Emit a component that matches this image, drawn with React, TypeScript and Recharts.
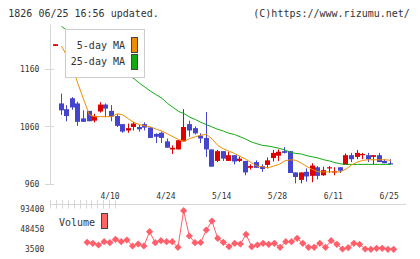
import React from "react";
import { ComposedChart, Bar, Line, XAxis, YAxis } from "recharts";

// Trading days shown on the chart
const dates = [
  "3/27", "3/30", "3/31", "4/1", "4/2", "4/3", "4/6", "4/7", "4/8", "4/9",
  "4/10", "4/13", "4/14", "4/15", "4/16", "4/17", "4/20", "4/21", "4/22", "4/23",
  "4/24", "4/27", "4/28", "4/30", "5/1", "5/7", "5/8", "5/11", "5/12", "5/13",
  "5/14", "5/15", "5/18", "5/19", "5/20", "5/21", "5/22", "5/25", "5/26", "5/27",
  "5/28", "5/29", "6/1", "6/2", "6/3", "6/4", "6/5", "6/8", "6/9", "6/10",
  "6/11", "6/12", "6/15", "6/16", "6/17", "6/18", "6/19", "6/22", "6/23", "6/24",
  "6/25",
];

const opens = [
  1201, 1101, 1091, 1110, 1101, 1075, 1088, 1071, 1087, 1099,
  1088, 1079, 1065, 1054, 1060, 1060, 1065, 1059, 1048, 1050,
  1035, 1021, 1021, 1035, 1065, 1058, 1045, 1041, 1021, 1001,
  1018, 1001, 1011, 1001, 1001, 989, 999, 992, 994, 1006,
  1010, 1018, 1018, 981, 968, 982, 975, 990, 976, 988,
  981, 990, 994, 1011, 1008, 1011, 1011, 1008, 1011, 1001,
  997,
];
const highs = [
  1204, 1118, 1098, 1112, 1104, 1089, 1088, 1083, 1103, 1101,
  1098, 1082, 1065, 1066, 1069, 1064, 1068, 1060, 1049, 1052,
  1040, 1028, 1037, 1091, 1071, 1061, 1049, 1086, 1021, 1020,
  1018, 1017, 1011, 1009, 1001, 995, 1002, 995, 1007, 1020,
  1021, 1025, 1018, 981, 981, 988, 997, 992, 991, 992,
  990, 990, 1014, 1015, 1020, 1015, 1015, 1011, 1015, 1004,
  1004,
];
const lows = [
  1201, 1081, 1070, 1090, 1062, 1069, 1070, 1068, 1085, 1077,
  1070, 1060, 1050, 1050, 1054, 1052, 1054, 1041, 1032, 1032,
  1024, 1013, 1021, 1035, 1043, 1047, 1032, 1008, 991, 999,
  1001, 1001, 995, 999, 976, 986, 989, 982, 988, 1000,
  1001, 1014, 980, 962, 962, 965, 964, 969, 975, 980,
  976, 980, 994, 999, 1004, 1004, 999, 995, 999, 997,
  995,
];
const closes = [
  1204, 1089, 1079, 1094, 1069, 1069, 1070, 1079, 1099, 1092,
  1078, 1062, 1052, 1058, 1066, 1056, 1059, 1041, 1043, 1041,
  1024, 1024, 1037, 1060, 1054, 1049, 1040, 1021, 991, 1018,
  1005, 1011, 1000, 1005, 981, 992, 989, 987, 1002, 1015,
  1017, 1015, 980, 973, 981, 974, 993, 975, 985, 990,
  983, 984, 1011, 1004, 1015, 1013, 1004, 1011, 999, 997,
  996,
];

// 5-day and 25-day moving averages
const ma5 = [
  null, 1201, 1183, 1162, 1134, 1107, 1081, 1078, 1078, 1078,
  1078, 1083, 1081, 1074, 1068, 1064, 1062, 1060, 1056, 1053,
  1048, 1043, 1038, 1035, 1040, 1043, 1046, 1047, 1039, 1028,
  1022, 1018, 1014, 1009, 1004, 998, 992, 991, 989, 992,
  995, 1001, 1003, 1002, 997, 991, 986, 982, 982, 982,
  982, 982, 987, 994, 999, 1002, 1003, 1003, 1003, 1003,
  1002,
];
const ma25 = [
  null, 1235, 1228, 1221, 1214, 1207, 1200, 1193, 1185, 1178,
  1171, 1164, 1157, 1150, 1144, 1136, 1129, 1122, 1116, 1110,
  1101, 1094, 1087, 1083, 1077, 1073, 1068, 1064, 1060, 1056,
  1053, 1049, 1047, 1043, 1039, 1034, 1031, 1028, 1027, 1025,
  1023, 1020, 1016, 1014, 1013, 1010, 1008, 1006, 1003, 1001,
  998, 996, 995, 995, 995, 995, 995, 995, 995, 995,
  995,
];

const volumes = [
  null, null, null, null, null, null, 18600, 16300, 12500, 19900,
  17700, 25300, 19900, 23700, 10200, 14700, 10200, 42400, 17700, 22200,
  19900, 19900, 7300, 89600, 32700, 17700, 18100, 46200, 66400, 27500,
  18600, 8700, 16300, 14700, 36500, 8700, 12500, 16300, 14100, 16300,
  7300, 19900, 19900, 27500, 16300, 7300, 7300, 16300, 7300, 22200,
  14100, 3500, 6400, 16300, 14100, 3500, 2800, 5100, 5100, 2800,
  2800,
];

const dateTicks = ["4/10", "4/24", "5/14", "5/28", "6/11", "6/25"];
const priceTicks = [960, 1060, 1160];
const volumeTicks = [3500, 48450, 93400];
const gridSteps = [0, 1, 2, 3, 4, 5, 6, 7, 8, 9, 10, 11];

const data = dates.map((date, i) => ({
  date,
  open: opens[i],
  high: highs[i],
  low: lows[i],
  close: closes[i],
  ma5: ma5[i],
  ma25: ma25[i],
  vol: volumes[i],
}));

const MONO = "'DejaVu Sans Mono', monospace";
const AXIS = "#d6d6d6";
const TEXT = "#333";
const UP = "#dd0000";
const DOWN = "#4444cc";
const MA5_COLOR = "#f08c00";
const MA25_COLOR = "#11aa11";
const VOL_COLOR = "#ff5f6a";

const W = 420;
const H = 259;
const Y_AXIS_W = 50;
const MARGIN_L = 0.5;
const MARGIN_R = 13.8;
const PAD = { left: 2.6, right: 12.6 };

const Candle = (props: any) => {
  const { x, y, width, height, payload } = props;
  if (!payload || payload.high == null) return null;
  const top = height < 0 ? y + height : y;
  const h = Math.abs(height);
  const { open, close, high, low } = payload;
  const ratio = high > low ? h / (high - low) : 0;
  const yOpen = top + (high - open) * ratio;
  const yClose = top + (high - close) * ratio;
  const color = close >= open ? UP : DOWN;
  const rx = Math.round(x);
  const cx = rx + Math.floor(width / 2) + 0.5;
  const bodyTop = Math.min(yOpen, yClose);
  const bodyH = Math.max(1.2, Math.abs(yOpen - yClose));
  return (
    <g>
      <line x1={cx} x2={cx} y1={top} y2={top + h} stroke={color} strokeWidth={1} />
      <rect x={rx} y={bodyTop} width={width} height={bodyH} fill={color} />
    </g>
  );
};

const PriceTick = (props: any) => {
  const { x, y, payload } = props;
  const ly = Math.floor(y) + 0.5;
  return (
    <g>
      <line x1={x - 5.5} x2={x + 3.5} y1={ly} y2={ly} stroke={AXIS} />
      <text x={x - 11.2} y={y + 2.8} textAnchor="end" fontSize={8} fontFamily={MONO} fill={TEXT}>
        {payload.value}
      </text>
    </g>
  );
};

const DateTick = (props: any) => {
  const { x, y, payload } = props;
  return (
    <text x={x - 1.7} y={y + 14.8} textAnchor="middle" fontSize={8} fontFamily={MONO} fill={TEXT}>
      {payload.value}
    </text>
  );
};

const StepTick = (props: any) => {
  const { x, y } = props;
  const lx = Math.floor(x) + 0.5;
  return <line x1={lx} x2={lx} y1={y - 4.5} y2={y + 4} stroke={AXIS} />;
};

const VolumeTick = (props: any) => {
  const { x, y, payload } = props;
  return (
    <text x={x - 6.2} y={y + 2.8} textAnchor="end" fontSize={8} fontFamily={MONO} fill={TEXT}>
      {payload.value}
    </text>
  );
};

const Diamond = (props: any) => {
  const { cx, cy, value } = props;
  if (value == null || cx == null || cy == null) return null;
  const r = 3.6;
  return (
    <polygon
      points={`${cx},${cy - r} ${cx + r},${cy} ${cx},${cy + r} ${cx - r},${cy}`}
      fill={VOL_COLOR}
    />
  );
};

export default function App() {
  return (
    <div
      style={{
        position: "absolute",
        left: 0,
        top: 0,
        width: W,
        height: H,
        background: "#fff",
        overflow: "hidden",
      }}
    >
      <div style={{ position: "absolute", left: 0, top: 0 }}>
        <ComposedChart
          width={W}
          height={H}
          data={data}
          margin={{ top: 24.5, right: MARGIN_R, bottom: 53.5, left: MARGIN_L }}
        >
          <XAxis
            xAxisId="steps"
            type="number"
            domain={[0, 11]}
            ticks={gridSteps}
            interval={0}
            allowDataOverflow
            height={1}
            tickSize={0}
            tickMargin={0}
            tickLine={false}
            axisLine={{ stroke: AXIS }}
            tick={StepTick}
          />
          <XAxis
            dataKey="date"
            type="category"
            ticks={dateTicks}
            interval={0}
            padding={PAD}
            height={20}
            tickSize={0}
            tickMargin={0}
            tickLine={false}
            axisLine={false}
            tick={DateTick}
          />
          <YAxis
            type="number"
            domain={[960, 1238.26]}
            ticks={priceTicks}
            interval={0}
            allowDataOverflow
            width={Y_AXIS_W}
            tickSize={0}
            tickMargin={0}
            tickLine={false}
            axisLine={{ stroke: AXIS }}
            tick={PriceTick}
          />
          <Line
            dataKey="ma25"
            stroke={MA25_COLOR}
            strokeWidth={1}
            dot={false}
            type="linear"
            isAnimationActive={false}
          />
          <Line
            dataKey="ma5"
            stroke={MA5_COLOR}
            strokeWidth={1}
            dot={false}
            type="linear"
            isAnimationActive={false}
          />
          <Bar
            dataKey={(d: any) => [d.low, d.high]}
            barSize={5}
            shape={Candle}
            isAnimationActive={false}
          />
        </ComposedChart>
      </div>

      <div style={{ position: "absolute", left: 0, top: 0 }}>
        <ComposedChart
          width={W}
          height={H}
          data={data}
          margin={{ top: 205, right: MARGIN_R, bottom: 6, left: MARGIN_L }}
        >
          <XAxis dataKey="date" type="category" padding={PAD} hide />
          <YAxis
            type="number"
            domain={[-5490, 102390]}
            ticks={volumeTicks}
            interval={0}
            allowDataOverflow
            width={Y_AXIS_W}
            tickSize={0}
            tickMargin={0}
            tickLine={false}
            axisLine={false}
            tick={VolumeTick}
          />
          <Line
            dataKey="vol"
            stroke={VOL_COLOR}
            strokeWidth={1}
            dot={Diamond}
            type="linear"
            isAnimationActive={false}
          />
        </ComposedChart>
      </div>

      <svg
        width={W}
        height={H}
        style={{ position: "absolute", left: 0, top: 0, pointerEvents: "none" }}
      >
        <text x={8.3} y={17.3} fontSize={10} fontFamily={MONO} fill={TEXT}>
          1826 06/25 16:56 updated.
        </text>
        <text x={253.3} y={17.3} fontSize={10} fontFamily={MONO} fill={TEXT}>
          (C)https://www.rizumu.net/
        </text>

        <rect x={65.5} y={29.5} width={79} height={48} fill="#fff" stroke="#cccccc" />
        <text x={125} y={49} textAnchor="end" fontSize={10} fontFamily={MONO} fill={TEXT}>
          5-day MA
        </text>
        <rect x={131.5} y={37.5} width={6} height={15} fill={MA5_COLOR} stroke="#444" />
        <text x={125} y={64.8} textAnchor="end" fontSize={10} fontFamily={MONO} fill={TEXT}>
          25-day MA
        </text>
        <rect x={131.5} y={54.5} width={6} height={15} fill={MA25_COLOR} stroke="#444" />

        <text x={59} y={225.6} fontSize={10} fontFamily={MONO} fill={TEXT}>
          Volume
        </text>
        <rect x={101.5} y={213.5} width={6} height={15} fill="#ff6464" stroke="#444" />
      </svg>
    </div>
  );
}
